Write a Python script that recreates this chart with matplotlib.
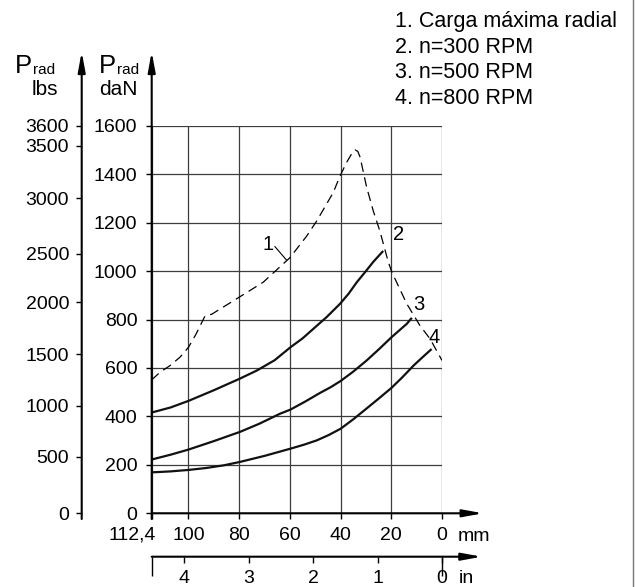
import numpy as np
import matplotlib
matplotlib.use("Agg")
import matplotlib.pyplot as plt
from matplotlib.transforms import ScaledTranslation

plt.rcParams['font.family'] = ['Liberation Sans', 'DejaVu Sans']

# stroke (mm) vs radial load (daN)
c1_mm = [112.4, 109.6, 106.2, 102.9, 100, 97, 95.7, 93.5, 90.8, 80, 70.5, 60, 53.4, 49.4,
         42.9, 40.2, 37.6, 35.4, 34.3, 33.2, 32.3, 29.7, 27.1, 24.5, 21.2, 19.8, 13.9, 8.7, 4.7, 0]
c1_dan = [551, 582, 610, 644, 685, 740, 768, 814, 822, 892, 954, 1055, 1144, 1207,
          1324, 1393, 1449, 1488, 1500, 1494, 1470, 1345, 1248, 1165, 1038, 996, 865, 775, 720, 631]
c2_mm = [112.4, 106, 100, 90, 79.7, 73.1, 66, 59.7, 55, 50.8, 45.5, 40.2, 36.8, 33.6, 30.3, 27.1, 23.2]
c2_dan = [416, 437, 464, 508, 556, 589, 632, 686, 722, 761, 810, 865, 907, 954, 996, 1038, 1083]
c3_mm = [112.4, 106, 100, 90, 79.7, 72, 63.9, 59.8, 54, 48.1, 44, 40, 35, 29.7, 24.8, 19.9, 13.9, 11.9]
c3_dan = [222, 242, 263, 298, 336, 370, 411, 428, 461, 497, 520, 546, 585, 631, 678, 727, 782, 807]
c4_mm = [112.4, 106, 100, 93, 86.1, 79.7, 70, 59.7, 54.5, 49.4, 44.7, 40, 35, 29.7, 24.8, 19.9, 15.5, 11.2, 7.6, 4.1]
c4_dan = [169, 173, 179, 187, 198, 212, 237, 267, 283, 301, 323, 349, 388, 433, 475, 518, 563, 610, 645, 678]

mm_ticks = [112.4, 100, 80, 60, 40, 20, 0]
mm_labels = ['112,4', '100', '80', '60', '40', '20', '0']
in_ticks = [4, 3, 2, 1, 0]
dan_ticks = [0, 200, 400, 600, 800, 1000, 1200, 1400, 1600]
lbs_ticks = [0, 500, 1000, 1500, 2000, 2500, 3000, 3500, 3600]
# where the drawing puts each lbs tick, in daN units (the printed scale is not exact)
lbs_at_dan = [0, 234, 444, 657, 871, 1073, 1302, 1518, 1601]

legend_lines = ['1. Carga máxima radial', '2. n=300 RPM', '3. n=500 RPM', '4. n=800 RPM']

W, H = 635, 587
fig = plt.figure(figsize=(W / 100, H / 100), dpi=100)


def fx(x):
    return x / W


def fy(y):
    return 1 - y / H


# the first grid cell is wider than the others in the drawing
def mm_fwd(v):
    v = np.asarray(v, dtype=float)
    return np.where(v <= 100, v, 100 + (v - 100) * 14.5 / 12.4)


def mm_inv(u):
    u = np.asarray(u, dtype=float)
    return np.where(u <= 100, u, 100 + (u - 100) * 12.4 / 14.5)


x0, x1, y0, y1 = 151.7, 442, 513.3, 125.7
ax = fig.add_axes([fx(x0), fy(y0), (x1 - x0) / W, (y0 - y1) / H])
ax.set_xscale('function', functions=(mm_fwd, mm_inv))
ax.set_xlim(112.4, 0)
ax.set_ylim(0, 1600)
ax.set_facecolor('none')
for s in ax.spines.values():
    s.set_visible(False)
ax.set_axisbelow(True)
ax.grid(True, color='#3c3c3c', lw=0.9)

ax.set_xticks(mm_ticks)
ax.set_xticklabels(mm_labels)
ax.set_yticks(dan_ticks)
ax.tick_params(axis='x', direction='out', length=4.3, width=1, labelsize=14, pad=5.5)
ax.tick_params(axis='y', direction='out', length=4, width=1, labelsize=14, pad=6.3)
t0 = ax.xaxis.get_major_ticks()[0].label1
t0.set_horizontalalignment('right')
t0.set_transform(t0.get_transform() + ScaledTranslation(4 / 100, 0, fig.dpi_scale_trans))

ax.plot(c1_mm, c1_dan, color='black', lw=0.9, dashes=(7.5, 4.5))
for xs, ys in [(c2_mm, c2_dan), (c3_mm, c3_dan), (c4_mm, c4_dan)]:
    ax.plot(xs, ys, color='#111111', lw=1.6, solid_capstyle='butt', solid_joinstyle='round')

# curve labels
ax.plot([65.9, 61.3], [1101, 1045], color='black', lw=0.8)
ax.text(68.6, 1110, '1', fontsize=14.5, ha='center', va='center')
ax.text(17.2, 1149, '2', fontsize=14.5, ha='center', va='center')
ax.text(9.1, 861, '3', fontsize=14.5, ha='center', va='center')
ax.text(3.2, 727, '4', fontsize=14.5, ha='center', va='center')

arrow = dict(arrowstyle='-|>,head_length=1.2,head_width=0.22', mutation_scale=10,
             lw=1.5, color='black', shrinkA=0, shrinkB=0)


def axis_arrow(a, start, tip):
    a.annotate('', xy=tip, xytext=start, xycoords='axes fraction',
               textcoords='axes fraction', arrowprops=arrow, annotation_clip=False)


gh = y0 - y1
gw = x1 - x0
axis_arrow(ax, (0, -(519 - y0) / gh), (0, (y0 - 51.7) / gh))
axis_arrow(ax, (0, 0), (1 + (483 - x1) / gw, 0))

# lbs axis
def lbs_fwd(v):
    return np.interp(v, lbs_ticks, lbs_at_dan, left=-1e3, right=1e4)


def lbs_inv(u):
    return np.interp(u, lbs_at_dan, lbs_ticks, left=-1e3, right=1e4)


ax_l = fig.add_axes([fx(81.7), fy(y0), 0.0005, (y0 - y1) / H])
ax_l.set_yscale('function', functions=(lbs_fwd, lbs_inv))
ax_l.set_ylim(0, 3600)
ax_l.set_facecolor('none')
for s in ax_l.spines.values():
    s.set_visible(False)
ax_l.set_xticks([])
ax_l.set_yticks(lbs_ticks)
ax_l.tick_params(axis='y', direction='out', length=4, width=1, labelsize=14, pad=5)
axis_arrow(ax_l, (0, -(519 - y0) / gh), (0, (y0 - 51.7) / gh))

# inch axis, same stroke scale as the mm axis
yi = 556.7
ax_in = fig.add_axes([fx(x0), fy(yi), (x1 - x0) / W, 0.0005])
ax_in.set_xscale('function', functions=(mm_fwd, mm_inv))
ax_in.set_xlim(112.4, 0)
ax_in.set_facecolor('none')
for s in ax_in.spines.values():
    s.set_visible(False)
ax_in.set_yticks([])
ax_in.set_xticks([v * 25.4 for v in in_ticks])
ax_in.set_xticklabels([str(v) for v in in_ticks])
ax_in.set_xticks([112.4, 0], minor=True)
ax_in.xaxis.remove_overlapping_locs = False
ax_in.tick_params(axis='x', which='major', direction='out', length=4.3, width=1,
                  labelsize=14, pad=5)
ax_in.tick_params(axis='x', which='minor', direction='out', length=14, width=1)
axis_arrow(ax_in, (0, 0), (1 + (481.7 - x1) / gw, 0))

fig.text(fx(458), fy(541), 'mm', fontsize=14, ha='left', va='baseline')
fig.text(fx(459), fy(583), 'in', fontsize=14, ha='left', va='baseline')

# axis titles
for xp, unit, ux in [(15, 'lbs', 44.5), (99.3, 'daN', 118.5)]:
    fig.text(fx(xp), fy(73.3), 'P', fontsize=18.5, ha='left', va='baseline')
    fig.text(fx(xp + 18), fy(74.3), 'rad', fontsize=11, ha='left', va='baseline')
    fig.text(fx(ux), fy(95), unit, fontsize=15, ha='center', va='baseline')

# legend text
for i, line in enumerate(legend_lines):
    fig.text(fx(395), fy(26.7 + 25.9 * i), line, fontsize=15.5, ha='left', va='baseline')

fig.add_artist(plt.Line2D([fx(632.5), fx(632.5)], [0, 1], color='#777777', lw=1))

fig.savefig('out.png', dpi=100)
